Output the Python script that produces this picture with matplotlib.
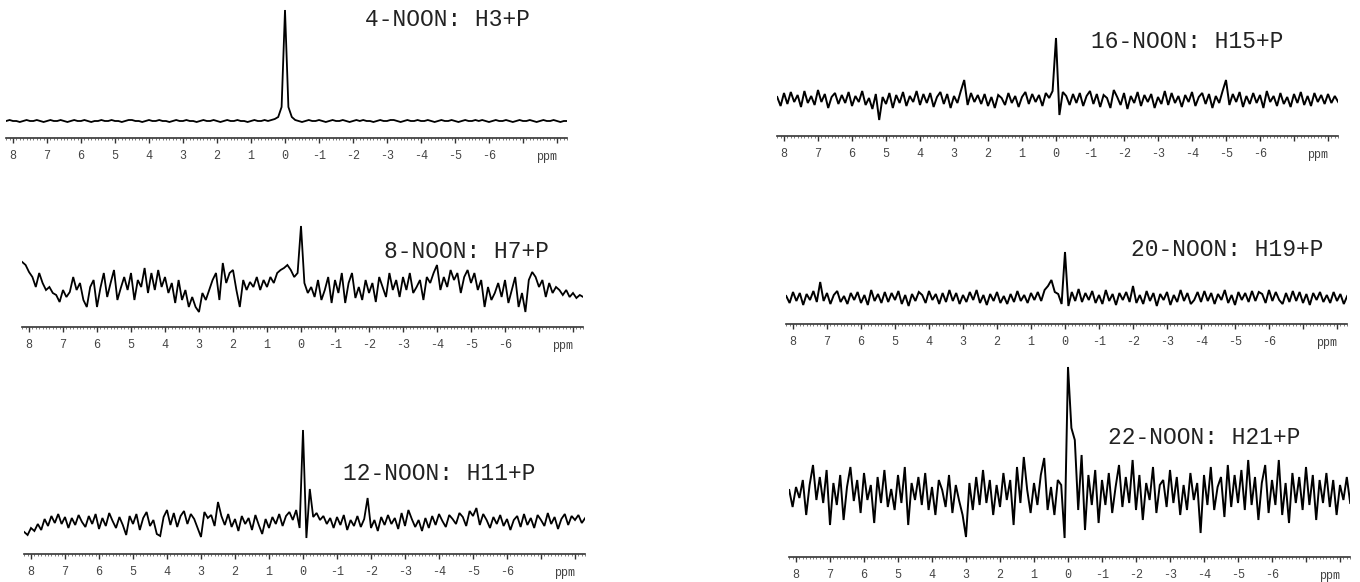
import numpy as np
import matplotlib
matplotlib.use("Agg")
import matplotlib.pyplot as plt
from matplotlib.ticker import MultipleLocator, FixedLocator, FixedFormatter

# ---------------- data ----------------
# each spectrum sampled from 8.2 ppm down to -8.3 ppm in 0.1 ppm steps
ppm_start = 8.2
ppm_step = 0.1

titles = ["4-NOON: H3+P", "8-NOON: H7+P", "12-NOON: H11+P",
          "16-NOON: H15+P", "20-NOON: H19+P", "22-NOON: H21+P"]

spec_4 = [
    0, 1, 0, 0, -1, 0, 1, 0, 0, 1,
    0, -1, 0, 1, 0, 0, 1, 0, -1, 0,
    1, 0, 0, 1, 0, -1, 0, 0, 1, 0,
    0, 1, 0, 0, -1, 0, 1, 1, 0, 0,
    -1, 0, 1, 0, 0, 1, 0, 0, -1, 0,
    1, 0, 0, 1, 0, 0, -1, 0, 1, 0,
    0, 1, 0, -1, 0, 1, 0, 0, 1, 0,
    0, -1, 0, 1, 0, 0, 1, 0, 1, 2,
    4, 14, 111, 14, 4, 1, 0, -1, 0, 1,
    0, 0, 1, 0, -1, 0, 1, 0, 0, 1,
    0, -1, 0, 1, 0, 1, 0, 0, -1, 0,
    1, 0, 0, 1, 1, 0, -1, 0, 1, 0,
    0, 1, 0, 0, 1, 0, -1, 0, 1, 0,
    0, 1, 0, -1, 0, 1, 0, 0, 1, 0,
    1, 0, -1, 0, 1, 0, 0, 1, 0, -1,
    0, 1, 0, 0, 1, 0, -1, 0, 1, 0,
    0, 1, 0, -1, 0, 0,
]

spec_8 = [
    28, 25, 18, 13, 3, 17, 7, 0, 3, -3,
    -5, -12, 0, -7, -2, 13, 0, 7, -10, -17,
    3, 10, -17, 2, 17, -7, 7, 20, -10, 2,
    13, 0, 17, -10, 10, 3, 22, -3, 17, 0,
    20, 3, 13, -3, 7, -13, 10, -10, 0, -17,
    -7, -17, -22, -3, -10, 0, 10, 17, -10, 27,
    7, 17, 20, 0, -17, 10, 0, 8, 3, 13,
    0, 10, 3, 13, 7, 17, 20, 22, 25, 20,
    13, 17, 64, 7, -3, 3, -7, 10, -10, 0,
    13, -13, 10, -3, 17, -13, 7, 17, -8, 3,
    -10, 10, -3, 7, -12, 13, 3, -7, 17, 0,
    10, -7, 13, 0, 17, -3, 3, 10, -10, 13,
    7, 17, 25, 0, 13, 3, 20, 10, 17, -3,
    13, 20, 7, 17, 0, 10, -17, 3, -10, -3,
    7, -7, 10, -13, 0, 13, -17, -3, -22, 10,
    18, 13, 3, 10, -7, 7, -3, 3, 0, -5,
    0, -7, -3, -8, -5, -7,
]

spec_12 = [
    -10, -13, -6, -9, -2, -8, 3, -4, 6, -1,
    8, -2, 5, -6, 4, -3, 7, 0, -5, 6,
    -2, 8, -7, 4, -4, 9, 1, -6, 5, -3,
    -13, 6, -2, 8, -8, 4, 10, -4, 2, -12,
    -14, 5, 12, -3, 9, -5, 6, 11, -2, 8,
    3, -6, -15, 10, 4, 7, -4, 20, 6, -3,
    8, -5, 3, -9, 6, -2, 4, -8, 7, -3,
    -12, 3, -6, 5, -2, 8, -4, 6, 10, 2,
    12, -6, 92, -16, 33, 5, 9, 2, 6, -2,
    4, -6, 5, -3, 7, -8, 2, -4, 6, -5,
    3, 24, -6, 2, -9, 5, -3, 7, -2, 4,
    -7, 9, -4, 12, 3, -5, 2, -9, 4, -6,
    6, -3, 8, 1, -5, 7, 3, -2, 9, 5,
    -4, 11, 6, 14, -3, 8, 2, -6, 5, -2,
    7, -4, 3, -8, 2, 6, -5, 8, -3, 4,
    -6, 7, 2, -4, 9, -2, 5, -7, 3, 8,
    -3, 6, 2, 7, -1, 4,
]

spec_16 = [
    3, -6, 7, -4, 8, -2, 5, -7, 9, -3,
    4, -5, 10, -2, 6, -8, 3, 7, -4, 5,
    -3, 8, -6, 4, -2, 9, -5, 2, -9, 6,
    -20, 3, -4, 7, -8, 5, -3, 8, -6, 4,
    -2, 9, -5, 6, -3, 7, -7, 3, 8, -4,
    6, -8, 4, -3, 9, 20, -5, 7, -2, 5,
    -4, 6, -6, 3, -8, 5, 2, -5, 7, -3,
    4, -7, 3, 8, -4, 6, -2, 5, -6, 7,
    2, 9, 62, -15, 8, 4, -5, 6, -3, 7,
    -6, 4, 9, -4, 6, -7, 5, 2, -8, 10,
    3, -5, 7, -9, 4, -3, 8, -6, 5, -2,
    6, -8, 3, -4, 9, -5, 7, -3, 4, -7,
    5, -2, 8, -6, 3, 7, -4, 6, -8, 4,
    -3, 9, 20, -5, 6, -2, 8, -7, 4, -4,
    7, -3, 5, -8, 9, -2, 4, -6, 7, -4,
    3, -7, 6, -3, 8, -5, 4, -6, 7, -2,
    5, -4, 6, -3, 4, -2,
]

spec_20 = [
    2, -5, 6, -3, 5, -7, 4, -2, 7, -4,
    16, -3, 5, -6, 3, 7, -4, 2, -6, 5,
    -2, 6, -5, 3, -7, 8, -3, 4, -5, 6,
    -4, 5, -2, 7, -6, 3, -8, 4, -3, 6,
    3, -5, 7, -2, 4, -6, 5, -4, 8, -3,
    5, -6, 3, -4, 6, -2, 8, -5, 3, -7,
    4, -3, 6, -5, 2, -6, 4, -4, 7, -3,
    3, -5, 5, -2, 6, -3, 8, 12, 18, 6,
    4, -6, 46, -8, 6, -3, 9, -4, 5, -2,
    7, -5, 3, -6, 8, -3, 4, -7, 5, -2,
    6, -4, 12, -5, 3, -6, 7, -3, 5, -8,
    4, -2, 6, -7, 3, -4, 8, -3, 5, -6,
    -2, 6, -4, 7, -3, 5, -6, 4, -2, 8,
    -5, 3, -7, 6, -2, 5, -4, 7, -3, 6,
    4, -5, 8, -3, 6, -2, -6, 5, -4, 7,
    -3, 6, -5, 4, -7, 5, -2, 6, -4, 3,
    -5, 6, -3, 4, -6, 2,
]

spec_22 = [
    5, -12, 8, -3, 15, -20, 10, 30, -5, 18,
    -8, 25, -30, 12, -10, 20, -25, 8, 28, -6,
    15, -18, 22, -5, 10, -28, 18, -8, 25, -12,
    6, -15, 20, -8, 28, -30, 12, -5, 18, -10,
    22, -15, 8, -20, 15, 5, -12, 20, -18, 10,
    -6, -20, -42, 12, -15, 18, -10, 25, -8, 15,
    -20, 10, -12, 22, -5, 15, -30, 28, -8, 38,
    5, -18, 12, -10, 20, 37, -15, 8, -20, 15,
    10, -43, 128, 67, 55, -15, 40, -35, 20, -10,
    25, -28, 15, -10, 22, -18, 8, 30, -12, 18,
    -8, 35, -15, 20, -25, 12, -5, 28, -18, 10,
    15, -12, 25, -8, 18, -20, 10, -15, 22, -5,
    12, -38, 20, -10, 28, -15, 8, 18, -22, 30,
    -12, 20, -8, 25, -15, 35, -10, 18, -25, 12,
    30, -18, 15, -10, 35, -20, 12, -28, 22, -8,
    18, -15, 28, -10, 20, -25, 15, -8, 22, -12,
    15, -20, 10, -5, 18, -8,
]

spectra = [spec_4, spec_8, spec_12, spec_16, spec_20, spec_22]

major_ticks = list(range(8, -9, -1))
major_labels = [str(t) if t >= -6 else "" for t in major_ticks]
unit_label = "ppm"

# ---------------- layout (pixels) ----------------
W, H = 1360, 582
S = 34.0  # pixels per ppm
XLO, XHI = 8.2, -8.3
layout = [
    dict(p0=285, top=10, base=121, axis=138, tx=365, ty=20, lw=1.3),
    dict(p0=301, top=226, base=290, axis=327, tx=384, ty=252, lw=1.3),
    dict(p0=303, top=430, base=522, axis=554, tx=343, ty=473, lw=1.3),
    dict(p0=1056, top=38, base=100, axis=136, tx=1091, ty=42, lw=1.4),
    dict(p0=1065, top=252, base=298, axis=324, tx=1131, ty=249, lw=1.4),
    dict(p0=1068, top=367, base=495, axis=557, tx=1108, ty=437, lw=1.4),
]

mono = ["Liberation Mono", "DejaVu Sans Mono"]

fig = plt.figure(figsize=(W / 100, H / 100), dpi=100)
fig.patch.set_facecolor("white")

for vals, title, L in zip(spectra, titles, layout):
    x0 = L["p0"] - XLO * S
    wpx = (XLO - XHI) * S
    top = L["top"] - 3
    ax = fig.add_axes([x0 / W, 1 - L["axis"] / H, wpx / W, (L["axis"] - top) / H])
    ppm = ppm_start - ppm_step * np.arange(len(vals))
    ax.plot(ppm, vals, color="black", lw=L["lw"], solid_joinstyle="miter")
    ax.set_xlim(XLO, XHI)
    ax.set_ylim(-(L["axis"] - L["base"]), L["base"] - top)
    for s in ("top", "left", "right"):
        ax.spines[s].set_visible(False)
    ax.spines["bottom"].set_color("#333333")
    ax.spines["bottom"].set_linewidth(1.2)
    ax.set_yticks([])
    ax.xaxis.set_major_locator(FixedLocator(major_ticks))
    ax.xaxis.set_major_formatter(FixedFormatter(major_labels))
    ax.xaxis.set_minor_locator(MultipleLocator(0.1))
    ax.tick_params(axis="x", which="major", direction="out", length=3.5,
                   width=1.0, color="#333333", pad=5, labelsize=8.5,
                   labelcolor="#444444")
    ax.tick_params(axis="x", which="minor", direction="out", length=1.6,
                   width=0.6, color="#666666")
    for lab in ax.get_xticklabels():
        lab.set_family(mono)
    ax.annotate(unit_label, xy=(-7.7, 0), xycoords=("data", "axes fraction"),
                xytext=(0, -14), textcoords="offset points",
                ha="center", va="center", fontsize=8.5, color="#444444",
                family=mono)
    ax.patch.set_alpha(0)
    fig.text(L["tx"] / W, 1 - L["ty"] / H, title, ha="left", va="center",
             fontsize=16.5, color="#222222", family=mono)

fig.savefig("out.png", dpi=100, facecolor="white")
